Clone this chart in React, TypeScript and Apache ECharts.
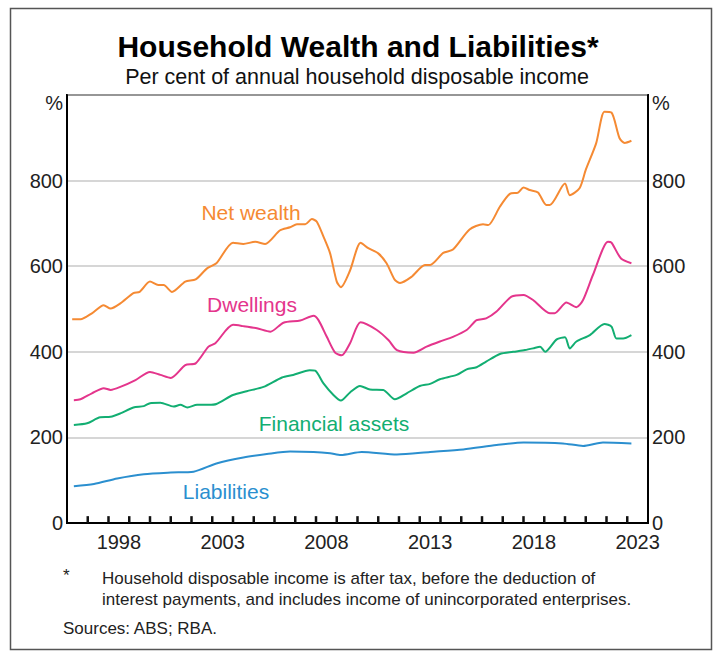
import React, { useEffect, useRef } from "react";
import * as echarts from "echarts";

const yearCategories = [
  "1996", "1997", "1998", "1999", "2000", "2001", "2002", "2003", "2004", "2005",
  "2006", "2007", "2008", "2009", "2010", "2011", "2012", "2013", "2014", "2015",
  "2016", "2017", "2018", "2019", "2020", "2021", "2022", "2023",
];
const yearLabels = ["1998", "2003", "2008", "2013", "2018", "2023"];
const yearTicks = [
  1997, 1998, 1999, 2000, 2001, 2002, 2003, 2004, 2005, 2006, 2007, 2008, 2009, 2010,
  2011, 2012, 2013, 2014, 2015, 2016, 2017, 2018, 2019, 2020, 2021, 2022, 2023,
];

const netWealth: [number, number][] = [
  [1996.25, 476], [1996.65, 476], [1997.2, 490], [1997.77, 509], [1998.1, 501], [1998.57, 513],
  [1999.2, 537], [1999.5, 540], [2000.0, 564], [2000.4, 556], [2000.66, 556], [2001.06, 540],
  [2001.7, 564], [2002.2, 569], [2002.75, 595], [2003.2, 607], [2004.0, 655], [2004.5, 652],
  [2005.07, 657], [2005.55, 652], [2006.27, 684], [2006.75, 691], [2007.08, 698], [2007.48, 698],
  [2007.8, 710], [2008.04, 704], [2008.36, 669], [2008.68, 630], [2009.0, 564], [2009.2, 551],
  [2009.64, 590], [2010.15, 655], [2010.52, 642], [2011.0, 630], [2011.4, 607], [2011.8, 568],
  [2012.05, 561], [2012.6, 575], [2013.25, 603], [2013.5, 603], [2014.13, 631], [2014.6, 639],
  [2015.4, 686], [2016.05, 698], [2016.3, 696], [2016.86, 739], [2017.34, 769], [2017.74, 772],
  [2018.0, 784], [2018.3, 778], [2018.7, 772], [2019.1, 743], [2019.27, 743], [2020.0, 793],
  [2020.23, 766], [2020.7, 782], [2021.0, 825], [2021.5, 887], [2021.9, 961], [2022.24, 959],
  [2022.63, 899], [2022.88, 888], [2023.2, 893],
];

const dwellings: [number, number][] = [
  [1996.33, 287], [1996.65, 289], [1997.2, 303], [1997.77, 315], [1998.1, 311], [1998.57, 318],
  [1999.3, 334], [2000.0, 353], [2000.5, 346], [2001.0, 339], [2001.7, 369], [2002.2, 373],
  [2002.82, 412], [2003.15, 420], [2004.0, 463], [2004.5, 460], [2005.15, 455], [2005.8, 447],
  [2006.43, 468], [2007.24, 473], [2007.88, 484], [2008.12, 474], [2008.52, 435], [2008.92, 398],
  [2009.24, 392], [2009.64, 420], [2010.15, 469], [2010.93, 451], [2011.5, 427], [2011.9, 404],
  [2012.7, 398], [2013.33, 412], [2013.97, 424], [2014.6, 435], [2015.26, 451], [2015.74, 474],
  [2016.2, 478], [2016.7, 494], [2017.42, 529], [2018.0, 533], [2018.46, 521], [2019.27, 490],
  [2019.5, 490], [2020.07, 515], [2020.55, 504], [2020.87, 521], [2021.35, 580], [2022.07, 657],
  [2022.24, 655], [2022.7, 618], [2023.2, 607],
];

const financialAssets: [number, number][] = [
  [1996.33, 229], [1996.97, 233], [1997.6, 247], [1998.1, 248], [1998.57, 256], [1999.2, 270],
  [1999.7, 273], [2000.0, 280], [2000.5, 281], [2001.14, 272], [2001.46, 276], [2001.8, 270],
  [2002.27, 276], [2002.82, 276], [2003.2, 278], [2004.0, 299], [2004.66, 308], [2005.47, 318],
  [2006.36, 340], [2006.9, 346], [2007.7, 357], [2007.96, 356], [2008.36, 326], [2008.84, 299],
  [2009.2, 286], [2009.64, 305], [2010.12, 320], [2010.6, 312], [2011.24, 311], [2011.8, 289],
  [2012.37, 303], [2013.0, 320], [2013.5, 325], [2013.97, 336], [2014.78, 346], [2015.26, 359],
  [2015.74, 364], [2016.2, 377], [2016.86, 395], [2017.5, 400], [2018.07, 404], [2018.46, 408],
  [2018.8, 412], [2019.04, 400], [2019.6, 429], [2020.0, 434], [2020.23, 408], [2020.55, 424],
  [2021.2, 439], [2021.9, 465], [2022.24, 459], [2022.48, 431], [2022.8, 431], [2023.2, 439],
];

const liabilities: [number, number][] = [
  [1996.33, 86], [1997.3, 91], [1998.42, 104], [1999.7, 114], [2001.0, 118], [2002.1, 120],
  [2003.2, 139], [2004.5, 153], [2005.63, 161], [2006.75, 167], [2007.88, 166], [2008.68, 163],
  [2009.2, 159], [2010.2, 166], [2011.9, 160], [2013.5, 166], [2015.1, 172], [2016.7, 182],
  [2018.0, 188], [2019.9, 186], [2020.87, 180], [2021.83, 188], [2023.2, 186],
];

const FONT = '"Liberation Sans", Arial, Helvetica, sans-serif';
const C_NET = "#F58A33";
const C_DWELL = "#E4358C";
const C_FIN = "#12AE72";
const C_LIAB = "#2B8FCF";

export default function App() {
  const ref = useRef<HTMLDivElement>(null);

  useEffect(() => {
    if (!ref.current) return;
    const chart = echarts.init(ref.current, undefined, { renderer: "svg" });

    const line = (name: string, data: [number, number][], color: string) => ({
      name,
      type: "line",
      data,
      xAxisIndex: 1,
      yAxisIndex: 0,
      showSymbol: false,
      smooth: 0.25,
      lineStyle: { color, width: 2 },
      itemStyle: { color },
      silent: true,
      z: 3,
    });

    const txt = (x: number, y: number, text: string, font: string, fill: string, align = "center") => ({
      type: "text",
      x,
      y,
      silent: true,
      style: { text, font, fill, textAlign: align, textVerticalAlign: "middle" },
    });

    chart.setOption({
      animation: false,
      backgroundColor: "#ffffff",
      textStyle: { fontFamily: FONT },
      grid: {
        left: 67,
        top: 95,
        right: 71,
        bottom: 133,
        show: true,
        borderColor: "#000",
        borderWidth: 2,
        backgroundColor: "transparent",
      },
      xAxis: [
        {
          type: "category",
          data: yearCategories,
          boundaryGap: true,
          position: "bottom",
          axisLine: { show: true, lineStyle: { color: "#000", width: 2 } },
          axisTick: { show: false },
          axisLabel: {
            interval: (_i: number, v: string) => yearLabels.includes(v),
            fontSize: 20,
            color: "#222",
            fontFamily: FONT,
            margin: 9,
          },
          splitLine: { show: false },
        },
        {
          type: "value",
          min: 1996,
          max: 2024,
          interval: 1,
          position: "bottom",
          show: false,
          splitLine: { show: false },
        },
      ],
      yAxis: [
        {
          type: "value",
          min: 0,
          max: 1000,
          interval: 200,
          position: "left",
          axisLine: { show: true, lineStyle: { color: "#000", width: 2 } },
          axisTick: { show: false },
          axisLabel: {
            fontSize: 20,
            color: "#222",
            fontFamily: FONT,
            margin: 4,
            formatter: (v: number) => (v >= 1000 ? "" : String(v)),
          },
          splitLine: { show: true, lineStyle: { color: "#c8c8c8", width: 1.5 } },
        },
        {
          type: "value",
          min: 0,
          max: 1000,
          interval: 200,
          position: "right",
          axisLine: { show: true, lineStyle: { color: "#000", width: 2 } },
          axisTick: { show: false },
          axisLabel: {
            fontSize: 20,
            color: "#222",
            fontFamily: FONT,
            margin: 4,
            formatter: (v: number) => (v >= 1000 ? "" : String(v)),
          },
          splitLine: { show: false },
        },
      ],
      series: [
        {
          type: "bar",
          name: "yearTicks",
          xAxisIndex: 1,
          yAxisIndex: 0,
          silent: true,
          barWidth: 2.5,
          z: 20,
          data: yearTicks.map((t) => [t, 16]),
          itemStyle: { color: "#111" },
        },
        line("Liabilities", liabilities, C_LIAB),
        line("Financial assets", financialAssets, C_FIN),
        line("Dwellings", dwellings, C_DWELL),
        line("Net wealth", netWealth, C_NET),
      ],
      graphic: [
        {
          type: "rect",
          silent: true,
          shape: { x: 10.5, y: 8.5, width: 701, height: 641 },
          style: { fill: "none", stroke: "#555", lineWidth: 1.5 },
        },
        txt(358, 46, "Household Wealth and Liabilities*", `bold 30px ${FONT}`, "#000"),
        txt(357, 77, "Per cent of annual household disposable income", `21.5px ${FONT}`, "#111"),
        txt(63, 103, "%", `20px ${FONT}`, "#222", "right"),
        txt(652, 103, "%", `20px ${FONT}`, "#222", "left"),
        txt(251, 212, "Net wealth", `21px ${FONT}`, C_NET),
        txt(252, 304, "Dwellings", `21px ${FONT}`, C_DWELL),
        txt(334, 423, "Financial assets", `21px ${FONT}`, C_FIN),
        txt(226, 491, "Liabilities", `21px ${FONT}`, C_LIAB),
        txt(63, 575, "*", `17px ${FONT}`, "#222", "left"),
        txt(102, 578, "Household disposable income is after tax, before the deduction of", `17px ${FONT}`, "#222", "left"),
        txt(102, 599, "interest payments, and includes income of unincorporated enterprises.", `17px ${FONT}`, "#222", "left"),
        txt(63, 628, "Sources: ABS; RBA.", `17px ${FONT}`, "#222", "left"),
      ],
    });

    return () => {
      chart.dispose();
    };
  }, []);

  return (
    <div
      ref={ref}
      style={{ position: "fixed", left: 0, top: 0, width: 719, height: 656, background: "#fff" }}
    />
  );
}
